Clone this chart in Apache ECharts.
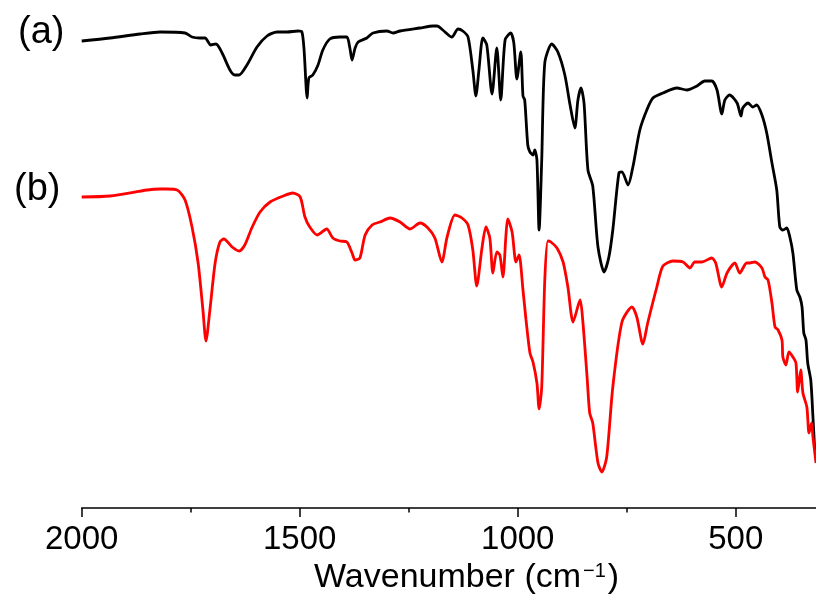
<!DOCTYPE html>
<html>
<head>
<meta charset="utf-8">
<script src="https://cdn.jsdelivr.net/npm/echarts@6/dist/echarts.min.js"></script>
<style>
html,body{margin:0;padding:0;background:#fff;}
#chart{width:816px;height:603px;}
</style>
</head>
<body>
<div id="chart"></div>
<script>
// Spectrum (a): wavenumber (cm-1) and relative transmittance (a.u.)
const waveA = [2000,1935,1866,1820,1763,1747,1729,1717,1704,1692,1678,1660,1649,1639,1621,1598,1575,1552,1529,1504,1495,1490,1483,1479,1470,1458,1447,1431,1408,1392,1385,1380,1373,1366,1346,1332,1300,1286,1270,1224,1194,1185,1172,1151,1137,1126,1114,1103,1096,1089,1080,1071,1059,1048,1039,1029,1016,1009,1002,993,988,984,977,972,965,961,956,951,945,938,922,908,892,880,869,862,855,848,839,828,816,802,791,782,768,761,747,736,720,704,690,667,635,612,589,571,555,543,532,525,514,497,488,484,472,461,452,440,429,417,406,399,392,383,376,369,360,353,348,344,339,335,328,323,319];
const transA = [467,470,474,476,475,471,470,470,463,464,455,438,433,433,443,461,472,476,476,477,476,458,410,430,433,443,458,469,471,471,460,448,460,466,470,475,477,475,477,480,482,482,478,471,479,477,471,438,412,438,470,463,414,460,408,468,475,465,429,456,412,408,363,356,353,358,348,278,348,445,464,456,433,403,380,408,420,405,338,322,261,236,251,278,335,336,323,341,378,398,410,415,420,418,422,427,427,418,394,408,413,405,392,400,405,401,403,393,375,345,318,281,278,280,271,255,218,211,201,175,168,145,128,91,58];

// Spectrum (b)
const waveB = [2000,1935,1850,1820,1804,1781,1763,1747,1733,1722,1715,1706,1694,1683,1674,1655,1639,1626,1610,1591,1568,1538,1516,1499,1488,1477,1460,1438,1424,1408,1392,1380,1373,1362,1350,1334,1316,1293,1270,1247,1224,1206,1190,1174,1162,1144,1128,1114,1103,1094,1082,1073,1064,1057,1048,1041,1034,1027,1023,1013,1004,997,988,981,972,965,956,951,945,938,931,924,910,896,885,873,857,851,841,835,828,816,807,796,782,761,738,727,713,702,681,667,644,621,605,594,578,555,546,532,520,502,491,475,468,456,440,433,426,417,410,403,394,392,385,378,369,362,358,351,346,337,332,326,323,316];
const transB = [311,312,318,319,319,318,308,281,245,198,167,198,245,266,269,261,257,263,280,296,306,312,315,311,291,281,273,279,270,267,266,255,248,250,273,283,286,290,286,279,285,280,270,246,271,293,290,283,258,222,260,281,270,235,256,253,231,273,289,276,246,253,218,188,155,146,125,99,121,228,267,266,260,246,221,186,208,188,131,95,85,45,36,51,121,186,201,191,164,185,221,242,247,246,240,246,246,250,245,221,235,245,235,245,245,246,240,231,228,205,181,178,168,151,143,156,151,145,116,138,115,101,75,85,71,45];

// Axis ticks
const majorTicks = [2000, 1500, 1000, 500];
const minorTicks = [1750, 1250, 750];
const axisTitle = 'Wavenumber (cm{sup|\u22121})';
const seriesLabels = ['(a)', '(b)'];

const pairs = (xs, ys) => xs.map((x, i) => [x, ys[i]]);
const FONT = "'Liberation Sans', Arial, sans-serif";
const X_MIN = 316, X_MAX = 2000;

const chart = echarts.init(document.getElementById('chart'), null, {renderer: 'canvas'});
chart.setOption({
  animation: false,
  backgroundColor: '#ffffff',
  grid: {left: 81.7, right: 0, top: 0, bottom: 95},
  xAxis: [{
    type: 'value', inverse: true, min: X_MIN, max: X_MAX, position: 'bottom',
    splitLine: {show: false},
    axisLine: {show: true, lineStyle: {color: '#000', width: 1.5}},
    axisTick: {show: true, inside: false, length: 9, customValues: majorTicks,
               lineStyle: {color: '#000', width: 1.5}},
    axisLabel: {show: true, margin: 15, fontSize: 33, color: '#000', fontFamily: FONT,
                customValues: majorTicks, formatter: v => String(v)}
  }, {
    type: 'value', inverse: true, min: X_MIN, max: X_MAX, position: 'bottom', offset: 0,
    splitLine: {show: false},
    axisLine: {show: false},
    axisTick: {show: true, inside: false, length: 4.5, customValues: minorTicks,
               lineStyle: {color: '#000', width: 1.5}},
    axisLabel: {show: false}
  }],
  yAxis: {type: 'value', min: 0, max: 508, show: false},
  graphic: [
    {type: 'text', left: 18, top: 14, style: {text: seriesLabels[0], font: '38px ' + FONT, fill: '#000'}},
    {type: 'text', left: 14, top: 171, style: {text: seriesLabels[1], font: '38px ' + FONT, fill: '#000'}},
    {type: 'text', left: 314, top: 561, style: {
      text: axisTitle, font: '34px ' + FONT, fill: '#000',
      rich: {sup: {fontSize: 20, fontFamily: FONT, verticalAlign: 'top', fill: '#000', padding: [0, 2, 0, 2]}}
    }}
  ],
  series: [
    {type: 'line', data: pairs(waveA, transA), showSymbol: false, smooth: 0.25,
     lineStyle: {color: '#000', width: 2.8}, itemStyle: {color: '#000'}},
    {type: 'line', data: pairs(waveB, transB), showSymbol: false, smooth: 0.25,
     lineStyle: {color: '#ff0000', width: 2.8}, itemStyle: {color: '#ff0000'}}
  ]
});
</script>
</body>
</html>
